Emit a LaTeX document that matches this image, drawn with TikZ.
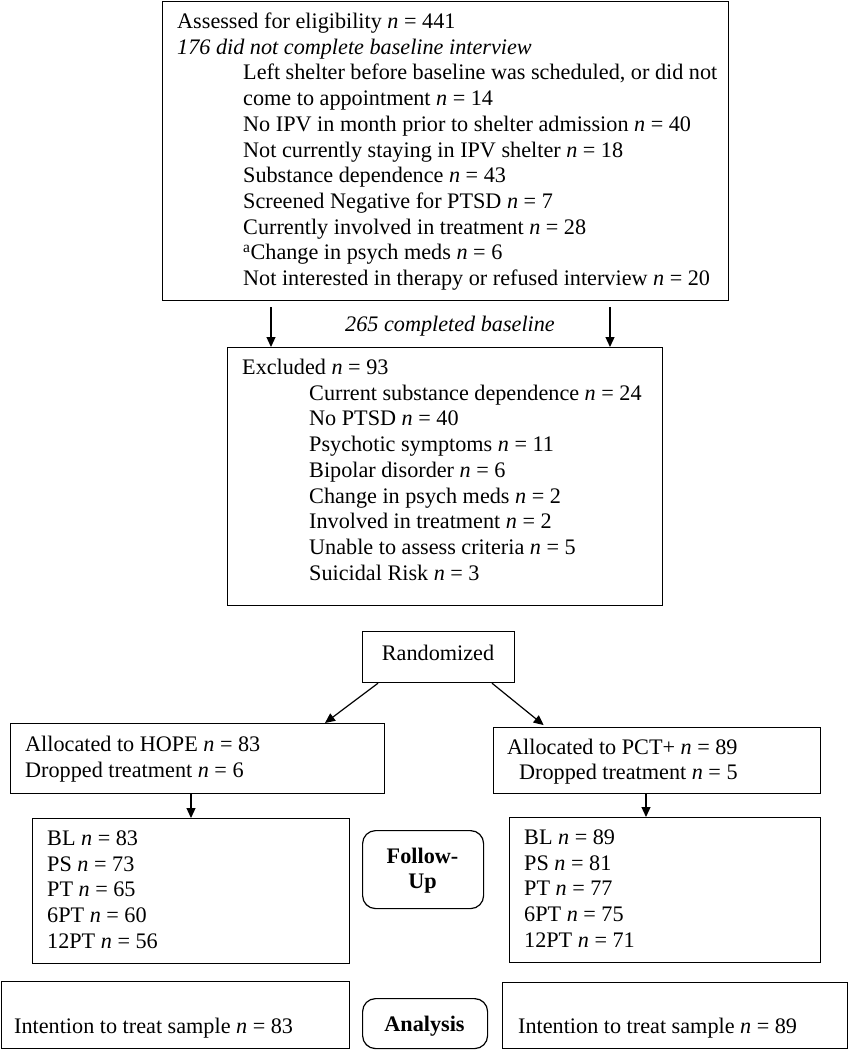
\documentclass[tikz,border=0pt]{standalone}
\usepackage{fontspec}
\setmainfont{Liberation Serif}
\usetikzlibrary{arrows.meta}
\newcommand\fsz{\fontsize{22.2}{25.7}\selectfont}
\newcommand\nn{\textit{n}}
\tikzset{
  box/.style={draw, line width=1.2pt, anchor=north west, inner sep=0pt},
  rbox/.style={box, rounded corners=13pt},
  txt/.style={anchor=base west, inner sep=0pt, font=\fsz},
  ctxt/.style={anchor=base, inner sep=0pt, font=\fsz},
  arr/.style={line width=1.2pt, -{Triangle[length=10pt,width=9pt]}}
}
\begin{document}
\begin{tikzpicture}[x=1pt,y=-1pt]
\useasboundingbox (0,0) rectangle (848,1050);
% boxes
\node[box, minimum width=566pt, minimum height=299pt] (top) at (162,1) {};
\node[box, minimum width=435pt, minimum height=258pt] (excl) at (227,347) {};
\node[box, minimum width=152pt, minimum height=51pt] (rand) at (362,631) {};
\node[box, minimum width=374pt, minimum height=70pt] (hope) at (10,723) {};
\node[box, minimum width=327pt, minimum height=66pt] (pct) at (493,727) {};
\node[box, minimum width=317pt, minimum height=145pt] (fl) at (32,818) {};
\node[box, minimum width=311pt, minimum height=145pt] (fr) at (509,817) {};
\node[rbox, minimum width=121pt, minimum height=78pt] (fu) at (362,830) {};
\node[box, minimum width=348pt, minimum height=67pt] (al) at (1,981) {};
\node[box, minimum width=345pt, minimum height=66pt] (ar) at (502,982) {};
\node[rbox, minimum width=125pt, minimum height=50pt] (an) at (362,998) {};
% top box text
\node[txt] (t1) at (177,28.5) {Assessed for eligibility \nn{} = 441};
\node[txt] (t2) at (177,54.2) {\textit{176 did not complete baseline interview}};
\node[txt] (t3) at (243,79.9) {Left shelter before baseline was scheduled, or did not};
\node[txt] (t4) at (243,105.6) {come to appointment \nn{} = 14};
\node[txt] (t5) at (243,131.3) {No IPV in month prior to shelter admission \nn{} = 40};
\node[txt] (t6) at (243,157) {Not currently staying in IPV shelter \nn{} = 18};
\node[txt] (t7) at (243,182.7) {Substance dependence \nn{} = 43};
\node[txt] (t8) at (243,208.4) {Screened Negative for PTSD \nn{} = 7};
\node[txt] (t9) at (243,234.1) {Currently involved in treatment \nn{} = 28};
\node[txt] (t10) at (243,259.8) {\textsuperscript{a}Change in psych meds \nn{} = 6};
\node[txt] (t11) at (243,285.5) {Not interested in therapy or refused interview \nn{} = 20};
% arrows top -> excluded
\coordinate (a1) at (271,0);
\coordinate (a2) at (610,0);
\draw[arr, shorten <=6pt] (top.south -| a1) -- (excl.north -| a1);
\draw[arr, shorten <=6pt] (top.south -| a2) -- (excl.north -| a2);
\node[ctxt] (cb) at (450,331) {\textit{265 completed baseline}};
% excluded text
\node[txt] (e0) at (242,374.5) {Excluded \nn{} = 93};
\node[txt] (e1) at (309,400.2) {Current substance dependence \nn{} = 24};
\node[txt] (e2) at (309,425.9) {No PTSD \nn{} = 40};
\node[txt] (e3) at (309,451.6) {Psychotic symptoms \nn{} = 11};
\node[txt] (e4) at (309,477.3) {Bipolar disorder \nn{} = 6};
\node[txt] (e5) at (309,503) {Change in psych meds \nn{} = 2};
\node[txt] (e6) at (309,528.7) {Involved in treatment \nn{} = 2};
\node[txt] (e7) at (309,554.4) {Unable to assess criteria \nn{} = 5};
\node[txt] (e8) at (309,580.1) {Suicidal Risk \nn{} = 3};
% randomized
\node[ctxt] (rt) at (438,660) {Randomized};
\coordinate (r1) at (378,0);
\coordinate (r2) at (492,0);
\coordinate (h1) at (325,0);
\coordinate (p1) at (546,0);
\draw[arr] (rand.south -| r1) -- (hope.north -| h1);
\draw[arr, shorten >=3pt] (rand.south -| r2) -- (pct.north -| p1);
% allocation
\node[txt] (h1t) at (25,751.5) {Allocated to HOPE \nn{} = 83};
\node[txt] (h2t) at (25,777) {Dropped treatment \nn{} = 6};
\node[txt] (p1t) at (507,754) {Allocated to PCT+ \nn{} = 89};
\node[txt] (p2t) at (519,779.5) {Dropped treatment \nn{} = 5};
\coordinate (c1) at (191,0);
\coordinate (c2) at (646,0);
\draw[arr] (hope.south -| c1) -- (fl.north -| c1);
\draw[arr] (pct.south -| c2) -- (fr.north -| c2);
% follow-up left
\node[txt] (l1) at (47,845.5) {BL \nn{} = 83};
\node[txt] (l2) at (47,871.2) {PS \nn{} = 73};
\node[txt] (l3) at (47,896.9) {PT \nn{} = 65};
\node[txt] (l4) at (47,922.6) {6PT \nn{} = 60};
\node[txt] (l5) at (47,948.3) {12PT \nn{} = 56};
% follow-up right
\node[txt] (q1) at (524,844.5) {BL \nn{} = 89};
\node[txt] (q2) at (524,870.2) {PS \nn{} = 81};
\node[txt] (q3) at (524,895.9) {PT \nn{} = 77};
\node[txt] (q4) at (524,921.6) {6PT \nn{} = 75};
\node[txt] (q5) at (524,947.3) {12PT \nn{} = 71};
% follow-up label
\node[ctxt] (fu1) at (422.5,863) {\textbf{Follow-}};
\node[ctxt] (fu2) at (422.5,888.5) {\textbf{Up}};
% analysis
\node[txt] (alt) at (14,1033) {Intention to treat sample \nn{} = 83};
\node[txt] (art) at (518,1033) {Intention to treat sample \nn{} = 89};
\node[ctxt] (ant) at (424.5,1031) {\textbf{Analysis}};
\end{tikzpicture}
\end{document}
